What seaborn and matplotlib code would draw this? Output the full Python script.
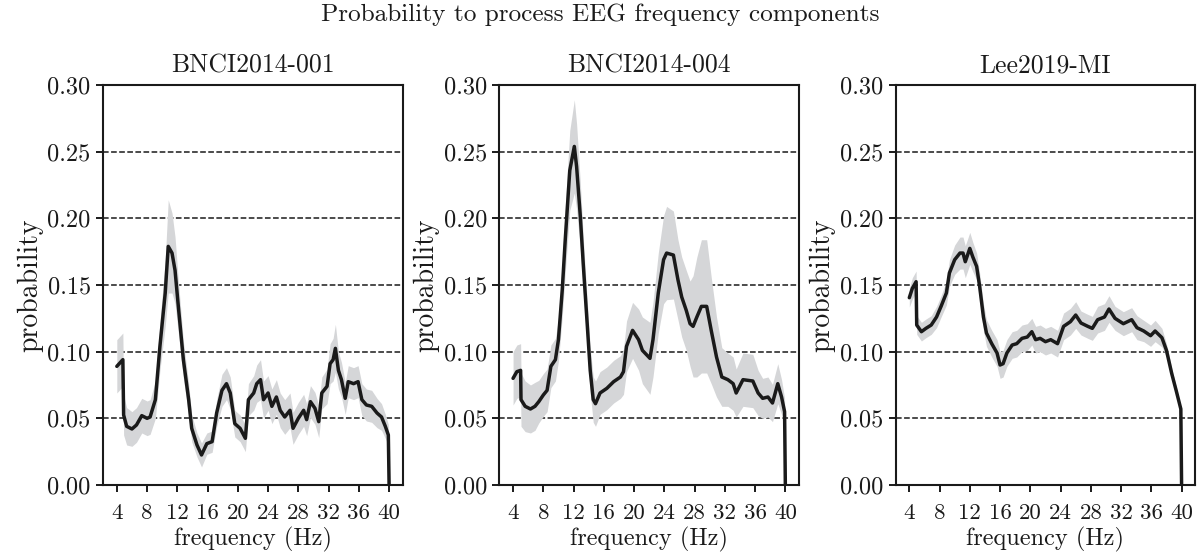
import numpy as np
import pandas as pd
import matplotlib
matplotlib.use("Agg")
import matplotlib.pyplot as plt
import seaborn as sns

# ---------------- data ----------------
datasets = ["BNCI2014-001", "BNCI2014-004", "Lee2019-MI"]
suptitle = "Probability to process EEG frequency components"
xticks = [4, 8, 12, 16, 20, 24, 28, 32, 36, 40]
yticks = [0.00, 0.05, 0.10, 0.15, 0.20, 0.25, 0.30]

freq_1 = [4.0, 4.8, 4.9, 5.3, 6.0, 6.6, 7.3, 8.0, 8.4, 9.1, 9.7, 10.4, 10.8, 11.3, 11.7,
          12.1, 12.8, 13.5, 13.9, 14.6, 15.2, 15.9, 16.6, 17.2, 17.9, 18.5, 19.0, 19.6,
          20.3, 21.0, 21.4, 22.1, 22.5, 23.0, 23.4, 24.0, 24.5, 25.1, 25.6, 26.2, 26.9,
          27.3, 28.0, 28.7, 29.1, 29.6, 30.2, 30.7, 31.1, 31.8, 32.2, 32.6, 32.9, 33.3,
          33.7, 34.2, 34.6, 35.3, 35.9, 36.4, 37.0, 37.7, 38.4, 39.0, 39.5, 39.9, 40.0]
mean_1 = [0.089, 0.094, 0.0525, 0.044, 0.042, 0.045, 0.052, 0.050, 0.051, 0.064, 0.104,
          0.144, 0.179, 0.174, 0.161, 0.136, 0.094, 0.064, 0.0425, 0.030, 0.0225, 0.031,
          0.0325, 0.054, 0.071, 0.076, 0.069, 0.046, 0.0425, 0.035, 0.064, 0.069, 0.076,
          0.079, 0.064, 0.069, 0.059, 0.066, 0.056, 0.051, 0.056, 0.0425, 0.050, 0.056,
          0.049, 0.0625, 0.0575, 0.0475, 0.069, 0.074, 0.091, 0.094, 0.1025, 0.086, 0.079,
          0.065, 0.0775, 0.076, 0.0775, 0.064, 0.060, 0.059, 0.054, 0.051, 0.044, 0.0375, 0.0]
spread_1 = [0.020, 0.020, 0.015, 0.014, 0.013, 0.013, 0.013, 0.013, 0.013, 0.014, 0.018,
            0.025, 0.035, 0.030, 0.025, 0.020, 0.014, 0.012, 0.010, 0.009, 0.009, 0.008,
            0.008, 0.010, 0.012, 0.012, 0.012, 0.010, 0.010, 0.010, 0.012, 0.013, 0.014,
            0.015, 0.014, 0.013, 0.013, 0.013, 0.013, 0.013, 0.013, 0.012, 0.012, 0.012,
            0.012, 0.012, 0.012, 0.012, 0.012, 0.013, 0.015, 0.016, 0.018, 0.014, 0.013,
            0.012, 0.012, 0.012, 0.012, 0.012, 0.012, 0.012, 0.011, 0.010, 0.009, 0.008, 0.0]

freq_2 = [4.0, 4.5, 5.0, 5.05, 5.6, 6.3, 6.9, 7.4, 8.0, 8.5, 9.0, 9.6, 10.0, 10.5, 10.9,
          11.5, 12.1, 12.4, 12.9, 13.3, 13.8, 14.2, 14.6, 14.9, 15.5, 16.4, 17.3, 18.2,
          18.6, 19.0, 19.8, 20.6, 21.1, 22.1, 22.5, 23.2, 23.9, 24.3, 25.2, 25.8, 26.3,
          26.9, 27.4, 27.8, 28.3, 28.9, 29.6, 30.2, 30.9, 31.6, 32.4, 33.1, 33.5, 34.4,
          35.7, 36.4, 37.0, 37.7, 38.3, 39.0, 39.5, 39.9, 40.0]
mean_2 = [0.080, 0.085, 0.086, 0.064, 0.059, 0.057, 0.059, 0.0625, 0.0675, 0.071, 0.089,
          0.094, 0.109, 0.146, 0.184, 0.236, 0.254, 0.239, 0.201, 0.164, 0.121, 0.086,
          0.064, 0.061, 0.069, 0.0725, 0.0775, 0.081, 0.085, 0.104, 0.116, 0.109, 0.101,
          0.095, 0.109, 0.144, 0.169, 0.174, 0.1725, 0.154, 0.141, 0.131, 0.121, 0.119,
          0.126, 0.134, 0.134, 0.116, 0.096, 0.081, 0.079, 0.076, 0.069, 0.079, 0.078,
          0.069, 0.065, 0.066, 0.0615, 0.076, 0.066, 0.055, 0.0]
spread_2 = [0.020, 0.020, 0.020, 0.020, 0.019, 0.018, 0.018, 0.016, 0.016, 0.016, 0.016,
            0.016, 0.016, 0.020, 0.025, 0.030, 0.035, 0.032, 0.025, 0.020, 0.018, 0.017,
            0.017, 0.017, 0.016, 0.016, 0.016, 0.016, 0.017, 0.019, 0.021, 0.023, 0.025,
            0.027, 0.028, 0.030, 0.033, 0.035, 0.033, 0.030, 0.030, 0.030, 0.032, 0.038,
            0.045, 0.050, 0.050, 0.040, 0.030, 0.022, 0.020, 0.020, 0.018, 0.020, 0.020,
            0.017, 0.015, 0.015, 0.014, 0.015, 0.013, 0.010, 0.0]

freq_3 = [4.0, 4.4, 4.9, 4.98, 5.6, 6.2, 6.9, 7.6, 8.2, 8.9, 9.3, 10.0, 10.7, 11.1, 11.4,
          12.0, 12.4, 12.9, 13.3, 13.8, 14.2, 14.9, 15.6, 16.0, 16.4, 16.9, 17.6, 18.2,
          18.9, 19.6, 20.2, 20.7, 21.3, 22.0, 22.7, 23.6, 24.4, 25.3, 26.0, 26.7, 27.6,
          28.2, 28.9, 29.8, 30.4, 31.2, 32.3, 33.4, 34.1, 35.0, 35.9, 36.5, 37.4, 38.0,
          38.7, 39.3, 39.9, 40.0]
mean_3 = [0.1405, 0.1475, 0.1525, 0.120, 0.115, 0.1175, 0.120, 0.126, 0.134, 0.144, 0.159,
          0.169, 0.174, 0.174, 0.1675, 0.1775, 0.171, 0.164, 0.149, 0.126, 0.114, 0.106,
          0.099, 0.090, 0.091, 0.099, 0.105, 0.106, 0.110, 0.111, 0.115, 0.109, 0.110,
          0.1075, 0.109, 0.106, 0.119, 0.1225, 0.1275, 0.1215, 0.119, 0.1175, 0.124, 0.126,
          0.132, 0.125, 0.121, 0.124, 0.118, 0.1155, 0.112, 0.1155, 0.1105, 0.101, 0.0835,
          0.0705, 0.057, 0.0]
spread_3 = [0.007, 0.008, 0.008, 0.007, 0.007, 0.007, 0.007, 0.008, 0.008, 0.009, 0.010,
            0.011, 0.012, 0.012, 0.012, 0.012, 0.011, 0.010, 0.010, 0.010, 0.010, 0.010,
            0.010, 0.010, 0.010, 0.010, 0.010, 0.010, 0.010, 0.010, 0.010, 0.010, 0.010,
            0.010, 0.010, 0.010, 0.010, 0.010, 0.010, 0.009, 0.009, 0.009, 0.010, 0.010,
            0.010, 0.009, 0.009, 0.009, 0.009, 0.008, 0.008, 0.008, 0.007, 0.005, 0.004,
            0.003, 0.002, 0.0]

freqs = [freq_1, freq_2, freq_3]
means = [mean_1, mean_2, mean_3]
spreads = [spread_1, spread_2, spread_3]

# ---------------- style ----------------
sns.set_theme(style="ticks")
plt.rcParams.update({
    "font.family": ["cmr10", "DejaVu Serif"],
    "mathtext.fontset": "cm",
    "axes.formatter.use_mathtext": True,
    "font.size": 17,
    "axes.titlesize": 18.5,
    "axes.labelsize": 17.5,
    "xtick.labelsize": 16.5,
    "ytick.labelsize": 17.5,
    "axes.edgecolor": "#1a1a1a",
    "axes.linewidth": 1.5,
    "xtick.color": "#1a1a1a",
    "ytick.color": "#1a1a1a",
    "text.color": "#1a1a1a",
    "axes.labelcolor": "#1a1a1a",
    "xtick.major.width": 1.4,
    "ytick.major.width": 1.4,
    "xtick.major.size": 5,
    "ytick.major.size": 5,
    "xtick.major.pad": 8,
    "ytick.major.pad": 4,
})

fig, axes = plt.subplots(1, 3, figsize=(12, 5.6), dpi=100)
fig.subplots_adjust(left=0.086, right=0.996, bottom=0.134, top=0.848, wspace=0.323)

for ax, name, f, m, s in zip(axes, datasets, freqs, means, spreads):
    df = pd.DataFrame({"freq": f, "prob": m, "spread": s})
    df["lo"] = df["prob"] - df["spread"]
    df["hi"] = df["prob"] + df["spread"]
    ax.fill_between(df["freq"], df["lo"], df["hi"], color="#d5d6d8", linewidth=0, zorder=1)
    sns.lineplot(data=df, x="freq", y="prob", ax=ax, color="#1a1a1a", linewidth=2.5,
                 estimator=None, sort=False, zorder=3)
    ax.set_ylim(0, 0.3)
    ax.set_xticks(xticks)
    ax.set_xticklabels([str(t) for t in xticks])
    ax.set_yticks(yticks)
    ax.set_yticklabels([f"{t:.2f}" for t in yticks])
    ax.yaxis.grid(True, linestyle="--", color="#1a1a1a", linewidth=1.1, zorder=0)
    ax.xaxis.grid(False)
    ax.set_axisbelow(True)
    ax.set_title(name, pad=9)
    ax.set_xlabel("frequency (Hz)", labelpad=3)
    ax.set_ylabel("probability", fontsize=20, labelpad=3)
    for sp in ax.spines.values():
        sp.set_visible(True)

fig.suptitle(suptitle, y=0.993, fontsize=18.2)
fig.savefig("out.png", dpi=100)
